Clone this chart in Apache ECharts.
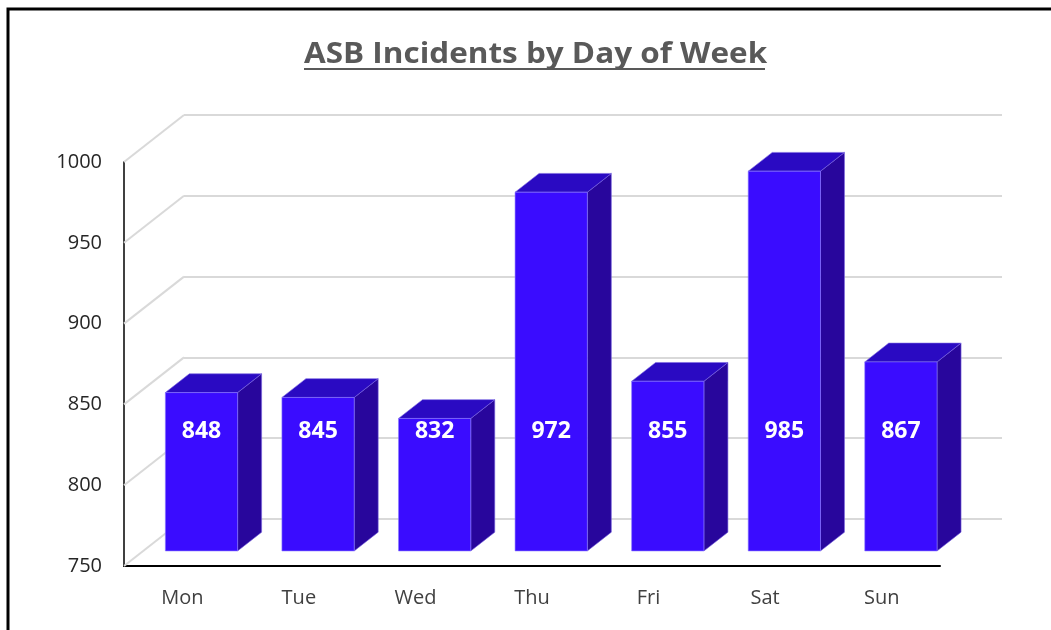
<!DOCTYPE html>
<html>
<head>
<meta charset="utf-8">
<title>ASB Incidents by Day of Week</title>
<script src="https://cdn.jsdelivr.net/npm/echarts@6/dist/echarts.min.js"></script>
<style>
  html, body { margin: 0; padding: 0; background: #fff; }
  #chart { width: 1051px; height: 630px; }
</style>
</head>
<body>
<div id="chart"></div>
<script>
// data
var days = ['Mon', 'Tue', 'Wed', 'Thu', 'Fri', 'Sat', 'Sun'];
var incidents = [848, 845, 832, 972, 855, 985, 867];
var yTicks = [750, 800, 850, 900, 950, 1000];

// 3d look: the back wall sits at (+60,-47) from the front plane
var DEPTH_X = 60, DEPTH_Y = -47;
var BAR_FRONT = 0.32, BAR_DEPTH = 0.4;
var LABEL_AT = 825;

var chart = echarts.init(document.getElementById('chart'));

function wallLines(params, api) {
  var p = api.coord([0, api.value(0)]);
  var cs = params.coordSys;
  return {
    type: 'line',
    shape: { x1: cs.x, y1: p[1], x2: cs.x + DEPTH_X, y2: p[1] + DEPTH_Y },
    style: { stroke: '#d9d9d9', lineWidth: 2 }
  };
}

function bar3d(params, api) {
  var idx = api.value(0);
  var val = api.value(1);
  var top = api.coord([idx, val]);
  var base = api.coord([idx, yTicks[0]]);
  var lab = api.coord([idx, LABEL_AT]);
  var bw = api.size([1, 0])[0] * 0.62;
  var ox = DEPTH_X * BAR_FRONT, oy = DEPTH_Y * BAR_FRONT;
  var dx = DEPTH_X * BAR_DEPTH, dy = DEPTH_Y * BAR_DEPTH;
  var x = top[0] - bw / 2 + ox;
  var y = top[1] + oy;
  var yb = base[1] + oy;
  return {
    type: 'group',
    children: [
      {
        type: 'polygon',
        shape: { points: [[x + bw, y], [x + bw + dx, y + dy], [x + bw + dx, yb + dy], [x + bw, yb]] },
        style: { fill: '#28069c', stroke: '#7a66e0', lineWidth: 0.6 }
      },
      {
        type: 'polygon',
        shape: { points: [[x, y], [x + dx, y + dy], [x + bw + dx, y + dy], [x + bw, y]] },
        style: { fill: '#2a0ac2', stroke: '#7a66e0', lineWidth: 0.6 }
      },
      {
        type: 'rect',
        shape: { x: x, y: y, width: bw, height: yb - y },
        style: { fill: '#3a0cff', stroke: '#8c7cff', lineWidth: 0.6 }
      },
      {
        type: 'text',
        x: x + bw / 2,
        y: lab[1] + oy + 2,
        style: {
          text: String(val),
          fill: '#ffffff',
          font: 'bold 23px "Open Sans", sans-serif',
          align: 'center',
          verticalAlign: 'middle'
        }
      }
    ]
  };
}

var option = {
  backgroundColor: '#ffffff',
  animation: false,
  graphic: [
    {
      type: 'rect',
      shape: { x: 8, y: 9, width: 1200, height: 800 },
      style: { fill: 'none', stroke: '#000', lineWidth: 3 },
      silent: true
    },
    {
      type: 'text',
      x: 304,
      y: 40,
      scaleX: 1.085,
      style: {
        text: 'ASB Incidents by Day of Week',
        fill: '#595959',
        font: 'bold 29px "Open Sans", sans-serif',
        align: 'left',
        verticalAlign: 'top'
      }
    },
    {
      type: 'line',
      shape: { x1: 304, y1: 69, x2: 765, y2: 69 },
      style: { stroke: '#595959', lineWidth: 2 }
    }
  ],
  grid: [
    { left: 124, right: 111, top: 162, bottom: 64 },
    { left: 184, right: 49, top: 115, bottom: 111 }
  ],
  xAxis: [
    {
      type: 'category',
      gridIndex: 0,
      data: days,
      axisLine: { lineStyle: { color: '#000', width: 2 } },
      axisTick: { show: false },
      axisLabel: { color: '#404040', fontSize: 20, fontFamily: '"Open Sans", sans-serif', margin: 22 }
    },
    {
      type: 'category',
      gridIndex: 1,
      data: days,
      show: false
    }
  ],
  yAxis: [
    {
      type: 'value',
      gridIndex: 0,
      min: 750,
      max: 1000,
      interval: 50,
      axisLine: { show: true, lineStyle: { color: '#404040', width: 2 } },
      axisTick: { show: false },
      splitLine: { show: false },
      axisLabel: {
        color: '#262626',
        fontSize: 20,
        fontFamily: '"Open Sans", sans-serif',
        margin: 22,
        formatter: function (v) { return String(v); }
      }
    },
    {
      type: 'value',
      gridIndex: 1,
      min: 750,
      max: 1000,
      interval: 50,
      axisLine: { show: false },
      axisTick: { show: false },
      axisLabel: { show: false },
      splitLine: { show: true, lineStyle: { color: '#d9d9d9', width: 2 } }
    }
  ],
  series: [
    {
      type: 'custom',
      xAxisIndex: 0,
      yAxisIndex: 0,
      data: yTicks.map(function (t) { return [t]; }),
      encode: { y: 0 },
      renderItem: wallLines,
      silent: true,
      z: 1
    },
    {
      type: 'custom',
      name: 'Incidents',
      xAxisIndex: 0,
      yAxisIndex: 0,
      data: incidents.map(function (v, i) { return [i, v]; }),
      encode: { x: 0, y: 1 },
      renderItem: bar3d,
      z: 3
    }
  ]
};

chart.setOption(option);
</script>
</body>
</html>
